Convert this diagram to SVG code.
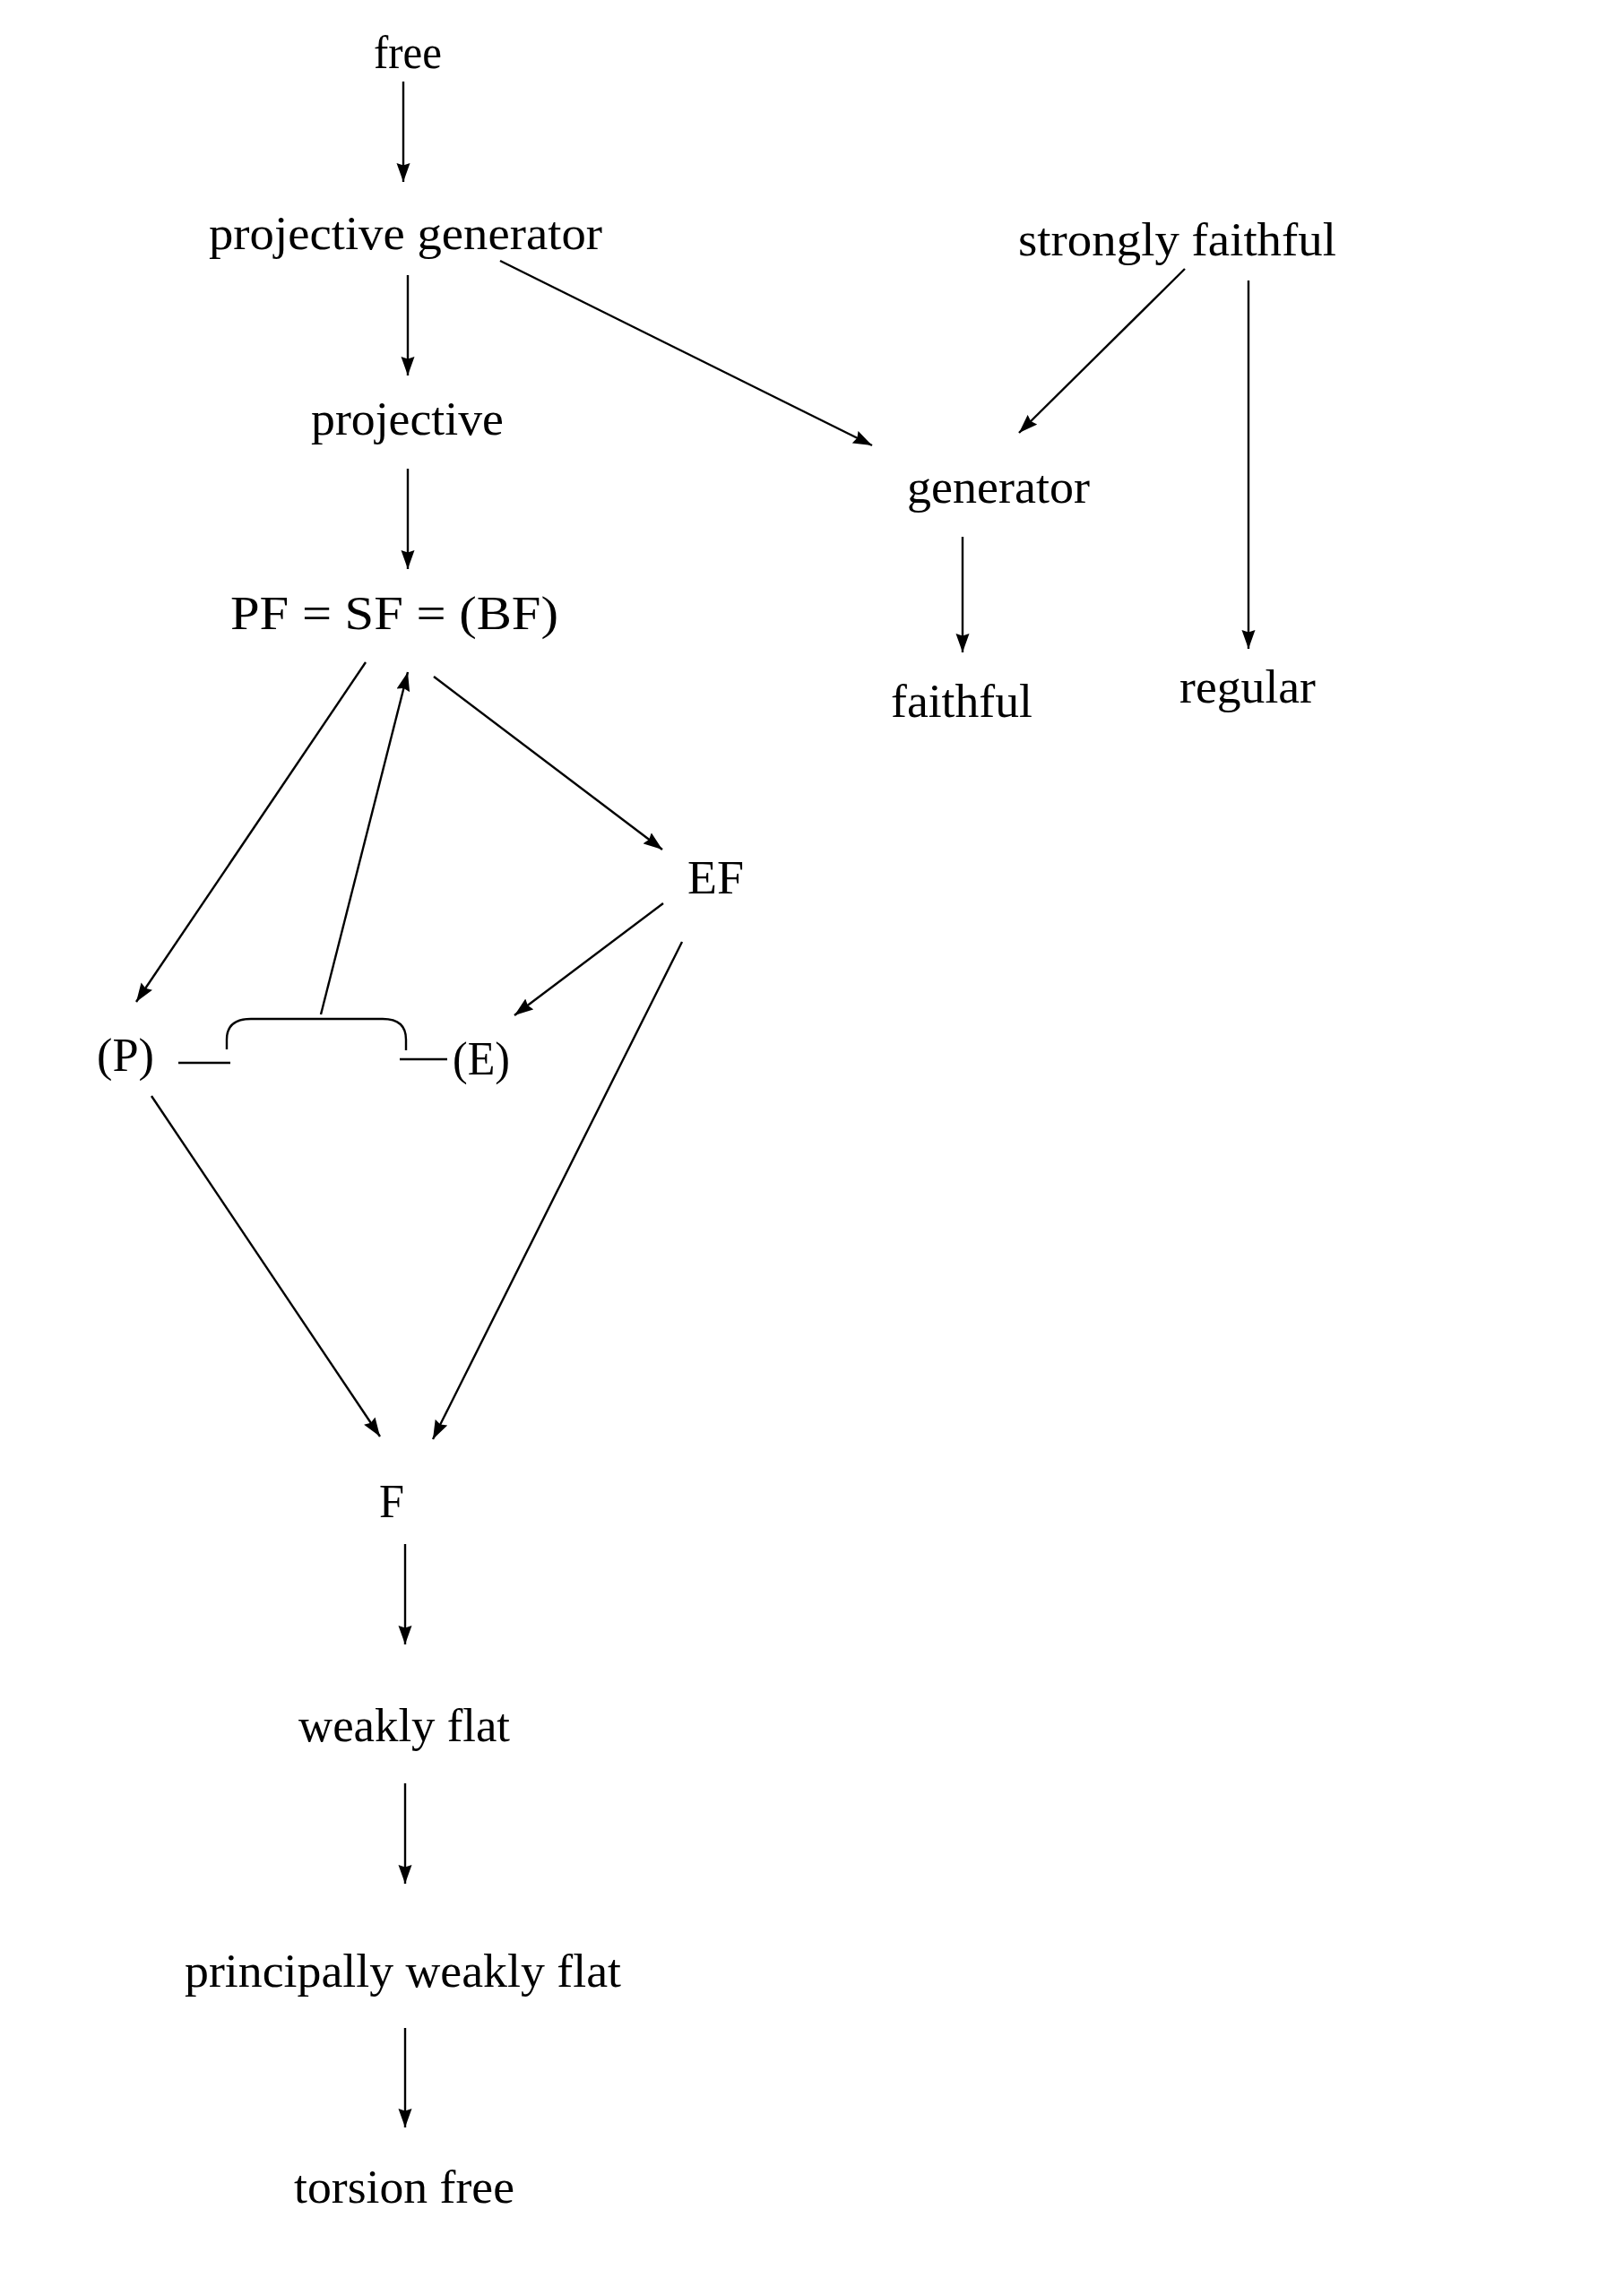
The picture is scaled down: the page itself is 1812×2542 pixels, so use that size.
<svg xmlns="http://www.w3.org/2000/svg" width="1812" height="2542" viewBox="0 0 1812 2542">
  <style>
    .lbl { font-family: "Liberation Serif", "DejaVu Serif", serif; font-size: 52px; fill: #000; }
    .edge { stroke: #000; stroke-width: 2.4; fill: none; }
    .arr { marker-end: url(#head); }
  </style>
  <defs>
    <marker id="head" markerUnits="userSpaceOnUse" markerWidth="22" markerHeight="16" viewBox="0 0 22 16" refX="21" refY="8" orient="auto">
      <path d="M0,0.5 L21,8 L0,15.5 L2.5,8 Z" fill="#000"/>
    </marker>
  </defs>
  <rect width="1812" height="2542" fill="#fff"/>

  <!-- implication arrows between module properties -->
  <g id="connectors">
    <line class="edge arr" x1="450" y1="91" x2="450" y2="203"/>
    <line class="edge arr" x1="455" y1="307" x2="455" y2="419"/>
    <line class="edge arr" x1="455" y1="523" x2="455" y2="635"/>
    <line class="edge arr" x1="558" y1="291" x2="973" y2="497"/>
    <line class="edge arr" x1="1322" y1="300" x2="1137" y2="483"/>
    <line class="edge arr" x1="1393" y1="313" x2="1393" y2="724"/>
    <line class="edge arr" x1="1074" y1="599" x2="1074" y2="728"/>
    <line class="edge arr" x1="408" y1="739" x2="152" y2="1118"/>
    <line class="edge arr" x1="358" y1="1132" x2="455" y2="750"/>
    <line class="edge arr" x1="484" y1="755" x2="739" y2="948"/>
    <line class="edge arr" x1="740" y1="1008" x2="574" y2="1133"/>
    <line class="edge arr" x1="761" y1="1051" x2="483" y2="1606"/>
    <line class="edge arr" x1="169" y1="1223" x2="424" y2="1603"/>
    <line class="edge arr" x1="452" y1="1723" x2="452" y2="1835"/>
    <line class="edge arr" x1="452" y1="1990" x2="452" y2="2102"/>
    <line class="edge arr" x1="452" y1="2263" x2="452" y2="2374"/>
    <!-- brace joining (P) and (E) -->
    <line class="edge" x1="199" y1="1186" x2="257" y2="1186"/>
    <path class="edge" d="M253,1171 L253,1160 Q253,1137 280,1137 L427,1137 Q453,1137 453,1160 L453,1172"/>
    <line class="edge" x1="446" y1="1182" x2="499" y2="1182"/>
  </g>

  <g id="free"><text class="lbl" x="417" y="76" textLength="76" lengthAdjust="spacingAndGlyphs">free</text></g>
  <g id="projective-generator"><text class="lbl" x="233" y="278" textLength="439" lengthAdjust="spacingAndGlyphs">projective generator</text></g>
  <g id="projective"><text class="lbl" x="347" y="485" textLength="215" lengthAdjust="spacingAndGlyphs">projective</text></g>
  <g id="strongly-faithful"><text class="lbl" x="1136" y="285" textLength="355" lengthAdjust="spacingAndGlyphs">strongly faithful</text></g>
  <g id="generator"><text class="lbl" x="1012" y="561" textLength="204" lengthAdjust="spacingAndGlyphs">generator</text></g>
  <g id="faithful"><text class="lbl" x="994" y="800" textLength="158" lengthAdjust="spacingAndGlyphs">faithful</text></g>
  <g id="regular"><text class="lbl" x="1316" y="784" textLength="152" lengthAdjust="spacingAndGlyphs">regular</text></g>
  <g id="pf-sf-bf"><text class="lbl" x="257" y="702" textLength="366" lengthAdjust="spacingAndGlyphs">PF = SF = (BF)</text></g>
  <g id="ef"><text class="lbl" x="767" y="997" textLength="63" lengthAdjust="spacingAndGlyphs">EF</text></g>
  <g id="p"><text class="lbl" x="108" y="1195" textLength="64" lengthAdjust="spacingAndGlyphs">(P)</text></g>
  <g id="e"><text class="lbl" x="505" y="1199" textLength="64" lengthAdjust="spacingAndGlyphs">(E)</text></g>
  <g id="f"><text class="lbl" x="423" y="1693" textLength="28" lengthAdjust="spacingAndGlyphs">F</text></g>
  <g id="weakly-flat"><text class="lbl" x="333" y="1943" textLength="236" lengthAdjust="spacingAndGlyphs">weakly flat</text></g>
  <g id="principally-weakly-flat"><text class="lbl" x="206" y="2217" textLength="487" lengthAdjust="spacingAndGlyphs">principally weakly flat</text></g>
  <g id="torsion-free"><text class="lbl" x="328" y="2458" textLength="246" lengthAdjust="spacingAndGlyphs">torsion free</text></g>
</svg>
